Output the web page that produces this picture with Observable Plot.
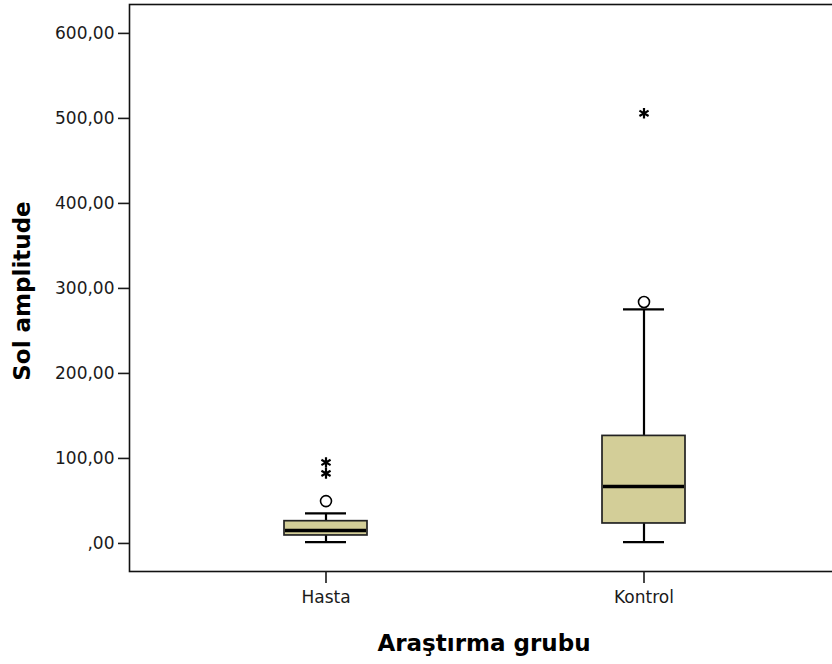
<!DOCTYPE html>
<html>
<head>
<meta charset="utf-8">
<script src="https://cdn.jsdelivr.net/npm/d3@7"></script>
<script src="https://cdn.jsdelivr.net/npm/@observablehq/plot@0.6"></script>
<style>
  html, body { margin: 0; padding: 0; background: #fff; }
  #chart svg { display: block; }
</style>
</head>
<body>
<div id="chart"></div>
<script>
const categories = ["Hasta", "Kontrol"];
const whiskerLow = [1.5, 1.5];
const q1 = [9.4, 23.5];
const median = [15.3, 67];
const q3 = [26.2, 126.5];
const whiskerHigh = [35.3, 275.3];

const outlierGroup = ["Hasta", "Kontrol"];
const outlierValue = [49.8, 284];

const extremeGroup = ["Hasta", "Hasta", "Kontrol"];
const extremeValue = [95.3, 82.4, 506];

const yTicks = [0, 100, 200, 300, 400, 500, 600];
const yTickLabels = [",00", "100,00", "200,00", "300,00", "400,00", "500,00", "600,00"];

const xTitle = "Araştırma grubu";
const yTitle = "Sol amplitude";

const boxes = categories.map((g, i) => ({
  group: g, lo: whiskerLow[i], q1: q1[i], med: median[i], q3: q3[i], hi: whiskerHigh[i]
}));
const outliers = outlierGroup.map((g, i) => ({group: g, value: outlierValue[i]}));
const extremes = extremeGroup.map((g, i) => ({group: g, value: extremeValue[i]}));

const chart = Plot.plot({
  width: 832,
  height: 664,
  marginLeft: 129,
  marginTop: 4,
  marginBottom: 93,
  marginRight: 0,
  style: {fontFamily: "'DejaVu Sans', sans-serif", fontSize: "17px", color: "#1a1a1a", background: "#fff"},
  x: {type: "band", domain: categories, paddingInner: 0.74, paddingOuter: 0.472, align: 0.513, label: null},
  y: {domain: [-33, 634], label: null},
  marks: [
    Plot.frame({stroke: "#111", strokeWidth: 1.6, insetRight: -6}),
    Plot.axisY({ticks: yTicks, tickFormat: d => yTickLabels[yTicks.indexOf(d)], tickSize: 11, tickPadding: 4, strokeWidth: 1.6, label: null, fontSize: 17}),
    Plot.axisX({tickSize: 12, tickPadding: 7, strokeWidth: 1.6, label: null, fontSize: 17}),
    Plot.ruleX(boxes, {x: "group", y1: "q3", y2: "hi", stroke: "#000", strokeWidth: 2.2}),
    Plot.ruleX(boxes, {x: "group", y1: "lo", y2: "q1", stroke: "#000", strokeWidth: 2.2}),
    Plot.tickY(boxes, {x: "group", y: "hi", insetLeft: 21, insetRight: 21, stroke: "#000", strokeWidth: 2.2}),
    Plot.tickY(boxes, {x: "group", y: "lo", insetLeft: 21, insetRight: 21, stroke: "#000", strokeWidth: 2.2}),
    Plot.barY(boxes, {x: "group", y1: "q1", y2: "q3", fill: "#d3ce98", stroke: "#222", strokeWidth: 1.7}),
    Plot.tickY(boxes, {x: "group", y: "med", stroke: "#000", strokeWidth: 3.5, insetLeft: 1, insetRight: 1}),
    Plot.dot(outliers, {x: "group", y: "value", r: 5.5, fill: "#fff", stroke: "#000", strokeWidth: 1.6}),
    Plot.dot(extremes, {x: "group", y: "value", symbol: "asterisk", r: 5, stroke: "#000", strokeWidth: 2.2}),
    Plot.text([xTitle], {frameAnchor: "bottom", textAnchor: "middle", dx: 3, dy: 79, lineAnchor: "bottom", fontSize: 23, fontWeight: "bold", fill: "#000"}),
    Plot.text([yTitle], {frameAnchor: "left", textAnchor: "middle", lineAnchor: "middle", rotate: -90, dx: -107, dy: 3, fontSize: 23, fontWeight: "bold", fill: "#000"})
  ]
});
document.getElementById("chart").append(chart);
</script>
</body>
</html>
